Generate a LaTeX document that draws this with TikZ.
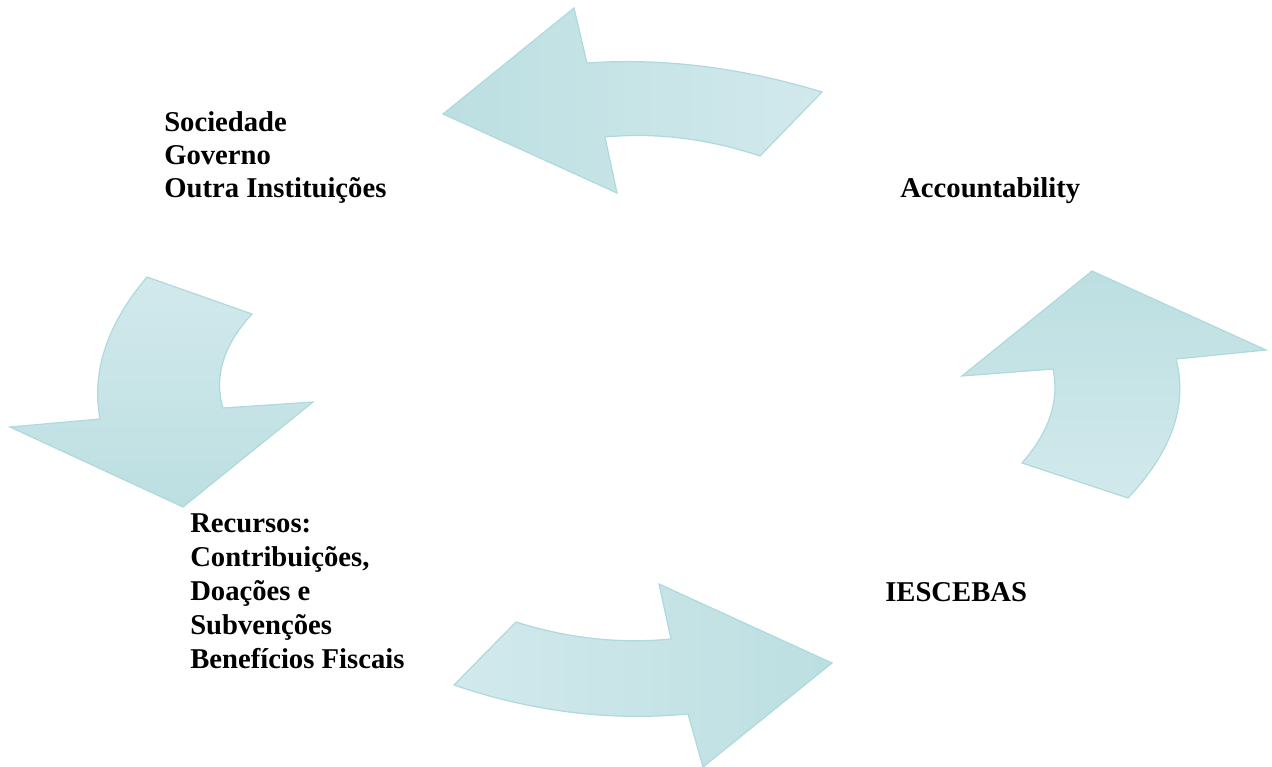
\documentclass[tikz,border=0pt]{standalone}
\usepackage{fontspec}
\setmainfont{Liberation Serif}
\definecolor{arrdark}{HTML}{BCDFE1}
\definecolor{arrlight}{HTML}{D2E9EC}
\definecolor{arrline}{HTML}{AFD9DC}
\begin{document}
\begin{tikzpicture}[x=0.75pt,y=-0.75pt,
  cyclearrow/.style={draw=arrline, line width=0.9pt, line join=miter},
  lbl/.style={font=\bfseries\fontsize{21.5pt}{24.4pt}\selectfont, align=left, inner sep=0pt, anchor=base west}]
\useasboundingbox (0,0) rectangle (1272,767);
% top arrow (pointing left)
\path[cyclearrow, left color=arrdark, right color=arrlight]
  (443,114) -- (574,8) -- (587,63)
  .. controls (662.3,57.7) and (740.7,67.3) .. (822,92)
  -- (760,156)
  .. controls (708,138.7) and (656.3,132.3) .. (605,137)
  -- (617,193) -- cycle;
% left arrow (pointing down)
\path[cyclearrow, top color=arrlight, bottom color=arrdark]
  (147,277) -- (252,314)
  .. controls (223.3,345.3) and (213.7,376.7) .. (223,408)
  -- (313,402) -- (183,507) -- (10,427) -- (100,419)
  .. controls (91.3,371.7) and (107,324.3) .. cycle;
% right arrow (pointing up)
\path[cyclearrow, top color=arrdark, bottom color=arrlight]
  (1092,271) -- (1266,350) -- (1176,359)
  .. controls (1188,405) and (1172,451.3) .. (1128,498)
  -- (1022,463)
  .. controls (1049.3,431.7) and (1059.7,400.3) .. (1053,369)
  -- (962,376) -- cycle;
% bottom arrow (pointing right)
\path[cyclearrow, left color=arrlight, right color=arrdark]
  (516,622) .. controls (567.7,638.3) and (619.3,644) .. (671,639)
  -- (659,584) -- (832,663) -- (703,767) -- (688,714)
  .. controls (610,721.3) and (532,711.7) .. (454,685) -- cycle;
% labels (base anchor = baseline of the last line)
\node[lbl] (soc) at (164,197) {Sociedade\\Governo\\Outra Instituições};
\node[lbl] (acc) at (900,197) {Accountability};
\node[lbl, font=\bfseries\fontsize{21.5pt}{25.5pt}\selectfont] (rec) at (190,668) {Recursos:\\Contribuições,\\Doações e\\Subvenções\\Benefícios Fiscais};
\node[lbl] (ies) at (885,601) {IESCEBAS};
\end{tikzpicture}
\end{document}
